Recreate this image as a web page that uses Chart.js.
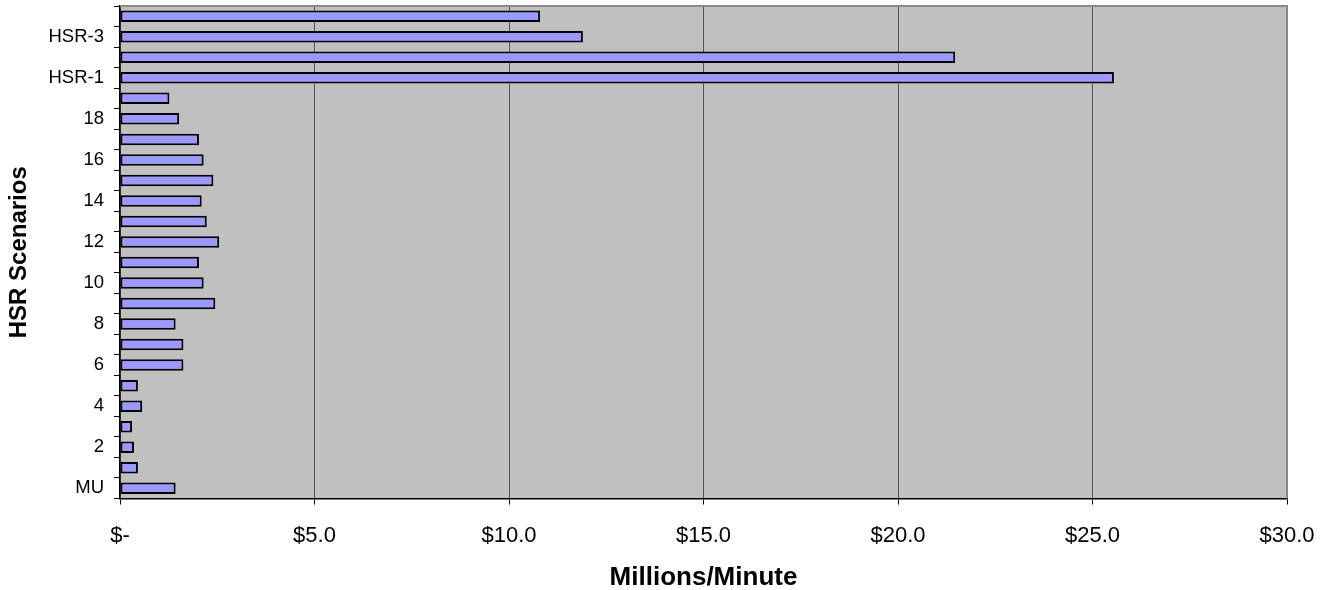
<!DOCTYPE html>
<html>
<head>
<meta charset="utf-8">
<title>HSR Scenarios - Millions/Minute</title>
<script src="https://cdn.jsdelivr.net/npm/chart.js@4.4.0/dist/chart.umd.min.js"></script>
<style>
  html, body { margin: 0; padding: 0; background: #ffffff; }
  #caixa { width: 1332px; height: 590px; position: relative; }
</style>
</head>
<body>
<div id="caixa"><canvas id="grafico"></canvas></div>
<script>
// === DADOS DO GRAFICO ===
// categorias de baixo para cima (o eixo y esta invertido)
const cenarios = ['MU', '1', '2', '3', '4', '5', '6', '7', '8', '9', '10',
    '11', '12', '13', '14', '15', '16', '17', '18', '19',
    'HSR-1', 'HSR-2', 'HSR-3', 'HSR-4'];

// valores em milhoes por minuto
const valores = [1.43, 0.46, 0.36, 0.31, 0.57, 0.46, 1.63, 1.63, 1.43, 2.45, 2.15,
    2.03, 2.55, 2.23, 2.10, 2.40, 2.15, 2.03, 1.52, 1.27,
    25.55, 21.47, 11.90, 10.80];

// eixo x
const eixoMin = 0;
const eixoMax = 30;
const eixoPasso = 5;

const tituloX = 'Millions/Minute';
const tituloY = 'HSR Scenarios';

// === ESTILO ===
const FONTE = "'Liberation Sans', Arial, sans-serif";
const COR_FUNDO_PLOT = '#c0c0c0';
const COR_BARRA = '#9999ff';
const COR_GRADE = '#555555';

// formata o rotulo do eixo x no estilo contabil do Excel
function formatarDolar(valor) {
    if (valor === 0) return '$-';
    return '$' + valor.toFixed(1);
}

// so mostra um rotulo a cada dois (MU, 2, 4 ... HSR-1, HSR-3)
function rotuloCategoria(valor, indice) {
    return indice % 2 === 0 ? cenarios[indice] : '';
}

// fundo cinza da area de plotagem e bordas de cima/direita
const fundoPlot = {
    id: 'fundoPlot',
    beforeDraw(chart) {
        const { ctx, chartArea: a } = chart;
        ctx.save();
        ctx.fillStyle = COR_FUNDO_PLOT;
        ctx.fillRect(a.left, a.top, a.right - a.left, a.bottom - a.top);
        ctx.restore();
    },
    afterDraw(chart) {
        const { ctx, chartArea: a } = chart;
        ctx.save();
        ctx.strokeStyle = '#8a8a8a';
        ctx.lineWidth = 2;
        ctx.beginPath();
        ctx.moveTo(a.left, a.top);
        ctx.lineTo(a.right, a.top);
        ctx.lineTo(a.right, a.bottom);
        ctx.stroke();
        ctx.restore();
    }
};

function inicializarGrafico() {
    const ctx = document.getElementById('grafico').getContext('2d');

    new Chart(ctx, {
        type: 'bar',
        data: {
            labels: cenarios,
            datasets: [{
                data: valores,
                backgroundColor: COR_BARRA,
                borderColor: '#000000',
                borderWidth: 2,
                borderSkipped: false,
                barPercentage: 0.56,
                categoryPercentage: 1.0
            }]
        },
        options: {
            indexAxis: 'y',
            responsive: true,
            maintainAspectRatio: false,
            animation: false,
            devicePixelRatio: 1,
            layout: { padding: { top: 6, right: 45, left: 0, bottom: 0 } },
            plugins: {
                legend: { display: false },
                tooltip: { enabled: false }
            },
            scales: {
                x: {
                    type: 'linear',
                    min: eixoMin,
                    max: eixoMax,
                    ticks: {
                        stepSize: eixoPasso,
                        callback: (v) => formatarDolar(v),
                        color: '#000000',
                        padding: 18,
                        maxRotation: 0,
                        font: { family: FONTE, size: 22 }
                    },
                    grid: {
                        color: COR_GRADE,
                        lineWidth: 1,
                        drawTicks: true,
                        tickLength: 6,
                        tickColor: '#000000'
                    },
                    border: { color: '#000000', width: 1.5 },
                    title: {
                        display: true,
                        text: tituloX,
                        color: '#000000',
                        padding: 0,
                        font: { family: FONTE, size: 26, weight: 'bold', lineHeight: 0.9 }
                    },
                    afterFit(scale) {
                        scale.height = 91.5;
                        scale.paddingLeft = 0;
                        scale.paddingRight = 0;
                    }
                },
                y: {
                    type: 'category',
                    reverse: true,
                    offset: true,
                    ticks: {
                        autoSkip: false,
                        callback: rotuloCategoria,
                        color: '#000000',
                        padding: 10,
                        font: { family: FONTE, size: 18.5 }
                    },
                    grid: {
                        offset: true,
                        drawOnChartArea: false,
                        drawTicks: true,
                        tickLength: 6,
                        tickColor: '#000000'
                    },
                    border: { color: '#000000', width: 1.5 },
                    title: {
                        display: true,
                        text: tituloY,
                        color: '#000000',
                        padding: { top: 5, bottom: 0 },
                        font: { family: FONTE, size: 24, weight: 'bold' }
                    },
                    afterFit(scale) {
                        scale.width = 120;
                        scale.paddingTop = 0;
                        scale.paddingBottom = 0;
                    }
                }
            }
        },
        plugins: [fundoPlot]
    });
}

document.addEventListener('DOMContentLoaded', inicializarGrafico);
</script>
</body>
</html>
